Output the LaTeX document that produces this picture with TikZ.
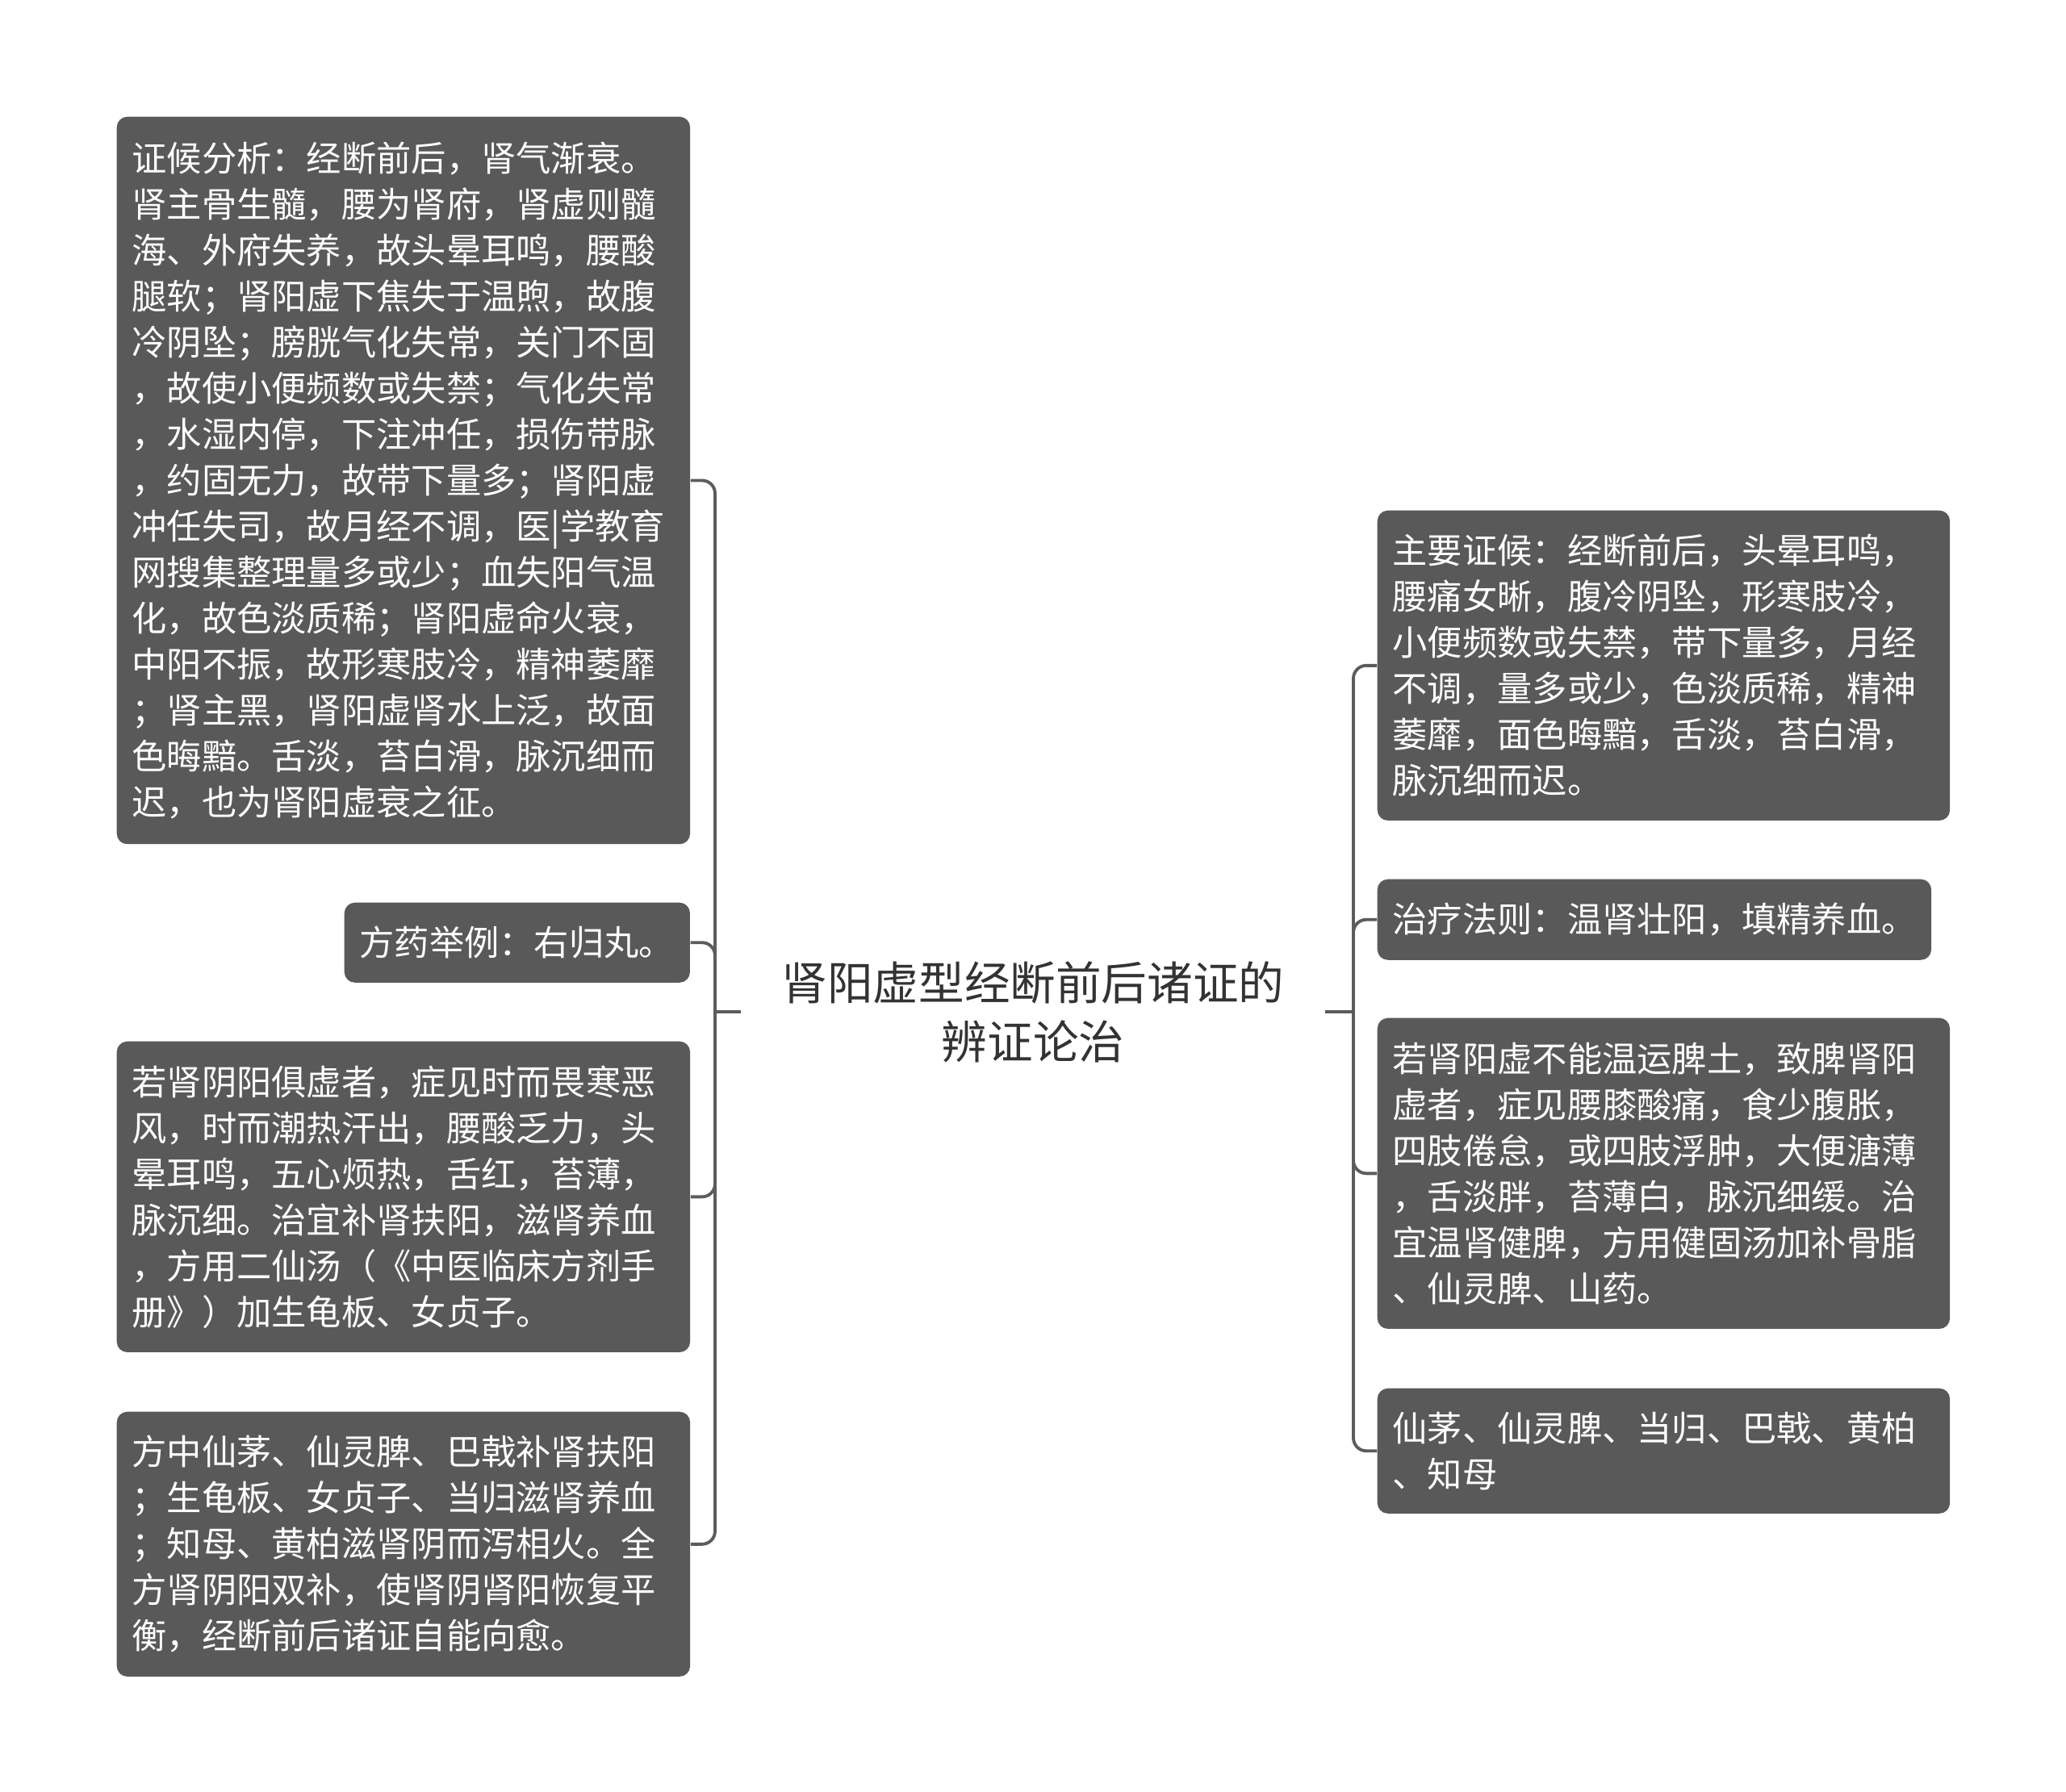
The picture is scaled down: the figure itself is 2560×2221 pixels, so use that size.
\documentclass[tikz,border=0pt]{standalone}
\usepackage{fontspec}
\setmainfont{Noto Sans CJK SC}
\usetikzlibrary{positioning}
\definecolor{boxgray}{HTML}{595959}
\definecolor{linegray}{HTML}{5C5C5C}
\definecolor{titlegray}{HTML}{333333}
\hfuzz=20pt

\begin{document}
\begin{tikzpicture}[x=0.01cm,y=-0.01cm,
  leaf/.style={fill=boxgray,text=white,rounded corners=0.13cm,align=left,anchor=north west,
    inner xsep=0.19cm,inner ysep=0pt,font=\fontsize{12.3pt}{16.2pt}\selectfont},
  link/.style={draw=linegray,line width=1.1pt,rounded corners=0.16cm}]
	\useasboundingbox (0,0) rectangle (2560,2221);
	% centre
	\node[text=titlegray,align=center,inner xsep=0.5cm,font=\fontsize{16.1pt}{20.7pt}\selectfont] (root) at (1280,1254) {肾阳虚型经断前后诸证的\\辨证论治};
	\coordinate (ls) at (886,1254);
	\coordinate (rs) at (1677,1254);
	% left side
	\node[leaf,minimum width=7.1cm,minimum height=9.01cm,text width=6.72cm] (l1) at (144,144) {证候分析：经断前后，肾气渐衰。\\肾主骨生髓，腰为肾府，肾虚则髓\\海、外府失养，故头晕耳鸣，腰酸\\腿软；肾阳虚下焦失于温煦，故腹\\冷阴坠；膀胱气化失常，关门不固\\，故使小便频数或失禁；气化失常\\，水湿内停，下注冲任，损伤带脉\\，约固无力，故带下量多；肾阳虚\\冲任失司，故月经不调，医|学教育\\网搜集整理量多或少；血失阳气温\\化，故色淡质稀；肾阳虚命火衰，\\中阳不振，故形寒肢冷，精神萎靡\\；肾主黑，肾阳虚肾水上泛，故面\\色晦黯。舌淡，苔白滑，脉沉细而\\迟，也为肾阳虚衰之征。};
	\node[leaf,minimum width=4.28cm,minimum height=0.99cm,text width=3.9cm] (l2) at (426,1118) {方药举例：右归丸。};
	\node[leaf,minimum width=7.1cm,minimum height=3.85cm,text width=6.72cm] (l3) at (144,1290) {若肾阴阳俱虚者，症见时而畏寒恶\\风，时而潮热汗出，腰酸乏力，头\\晕耳鸣，五心烦热，舌红，苔薄，\\脉沉细。治宜补肾扶阳，滋肾养血\\，方用二仙汤（《中医临床方剂手\\册》）加生龟板、女贞子。};
	\node[leaf,minimum width=7.1cm,minimum height=3.28cm,text width=6.72cm] (l4) at (144,1749) {方中仙茅、仙灵脾、巴戟补肾扶阳\\；生龟板、女贞子、当归滋肾养血\\；知母、黄柏滋肾阴而泻相火。全\\方肾阴阳双补，使肾阴肾阳恢复平\\衡，经断前后诸证自能向愈。};
	% right side
	\node[leaf,minimum width=7.09cm,minimum height=3.84cm,text width=6.71cm] (r1) at (1706,632) {主要证候：经断前后，头晕耳鸣，\\腰痛女晰，腹冷阴坠，形寒肢冷，\\小便频数或失禁，带下量多，月经\\不调，量多或少，色淡质稀，精神\\萎靡，面色晦黯，舌淡，苔白滑，\\脉沉细而迟。};
	\node[leaf,minimum width=6.86cm,minimum height=1cm,text width=6.48cm] (r2) at (1706,1089) {治疗法则：温肾壮阳，填精养血。};
	\node[leaf,minimum width=7.09cm,minimum height=3.85cm,text width=6.71cm] (r3) at (1706,1261) {若肾阳虚不能温运脾土，致脾肾阳\\虚者，症见腰膝酸痛，食少腹胀，\\四肢倦怠，或四肢浮肿，大便溏薄\\，舌淡胖，苔薄白，脉沉细缓。治\\宜温肾健脾，方用健固汤加补骨脂\\、仙灵脾、山药。};
	\node[leaf,minimum width=7.09cm,minimum height=1.55cm,text width=6.71cm] (r4) at (1706,1720) {仙茅、仙灵脾、当归、巴戟、黄柏\\、知母};
	% connectors
	\draw[link] (root.west) -- (ls);
	\draw[link] (root.east) -- (rs);
	\foreach \n in {l1,l2,l3,l4}
		\draw[link] (ls) |- (\n.east);
	\foreach \n in {r1,r2,r3,r4}
		\draw[link] (rs) |- (\n.west);
\end{tikzpicture}
\end{document}
